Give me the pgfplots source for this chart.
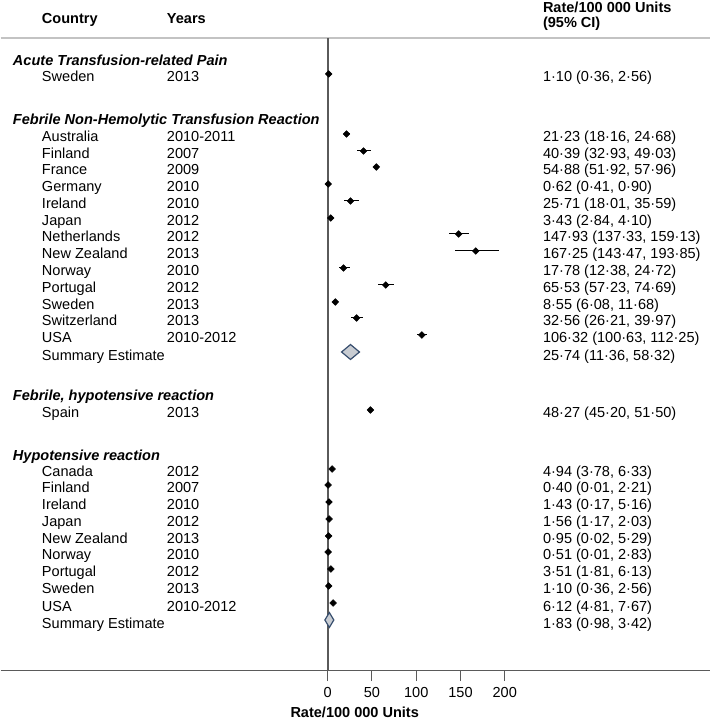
\documentclass[border=0pt]{standalone}
\usepackage{pgfplots}
\pgfplotsset{compat=1.18}
\usepackage{pgfplotstable}
\usepackage{fontspec}
\setmainfont{Liberation Sans}
\definecolor{sumfill}{RGB}{200,204,210}
\definecolor{sumdraw}{RGB}{55,78,110}
\definecolor{vline}{RGB}{90,90,90}
\definecolor{topline}{RGB}{195,195,195}
\newcommand\fs{\fontsize{10.9}{12.5}\selectfont}

% y = -pixel position of the marker row
\pgfplotstableread{
y x lo hi
-74 1.10 0.36 2.56
}\tabacute
\pgfplotstableread{
y x lo hi
-134 21.23 18.16 24.68
-151 40.39 32.93 49.03
-167 54.88 51.92 57.96
-184 0.62 0.41 0.90
-201 25.71 18.01 35.59
-218 3.43 2.84 4.10
-234 147.93 137.33 159.13
-251 167.25 143.47 193.85
-268 17.78 12.38 24.72
-285 65.53 57.23 74.69
-302 8.55 6.08 11.68
-318 32.56 26.21 39.97
-335 106.32 100.63 112.25
}\tabfnh
\pgfplotstableread{
y x lo hi
-410 48.27 45.20 51.50
}\tabfhyp
\pgfplotstableread{
y x lo hi
-469 4.94 3.78 6.33
-485 0.40 0.01 2.21
-502 1.43 0.17 5.16
-519 1.56 1.17 2.03
-536 0.95 0.02 5.29
-552 0.51 0.01 2.83
-569 3.51 1.81 6.13
-586 1.10 0.36 2.56
-603 6.12 4.81 7.67
}\tabhyp

\newcommand\crow[4]{%
 \node[anchor=base west,inner sep=0pt,yshift=-6pt] at (axis cs:-323.16,-#1) {#2};
 \node[anchor=base west,inner sep=0pt,yshift=-6pt] at (axis cs:-181.92,-#1) {#3};
 \node[anchor=base west,inner sep=0pt,yshift=-6pt] at (axis cs:242.94,-#1) {#4};
}
\newcommand\ghead[2]{%
 \node[anchor=base west,inner sep=0pt,font=\fs\bfseries\itshape] at (axis cs:-355.93,-#1) {#2};
}

\begin{document}
\begin{tikzpicture}[font=\fs]
\begin{axis}[
  x=0.66375pt, y=0.75pt,
  xmin=0, xmax=431.64, ymin=-670, ymax=-38,
  scale only axis,
  axis x line=bottom, axis y line=none,
  axis line style={draw=none},
  xtick={0,50,100,150,200},
  tick align=outside,
  major tick length=8.25pt,
  x tick style={vline, line width=0.75pt},
  xticklabel style={font=\fs, yshift=-1pt},
  /pgf/number format/assume math mode=true,
  clip mode=individual,
  error bars/error bar style={black, line width=0.75pt},
  error bars/error mark=none,
]
% frame lines
\path (axis cs:-369.49,0) rectangle (axis cs:431.64,-724);
\draw[topline, line width=1.1pt] (axis cs:-369.49,-38) -- (axis cs:431.64,-38);
\draw[vline, line width=0.75pt] (axis cs:-369.49,-670) -- (axis cs:431.64,-670);
\draw[vline, line width=1.2pt] (axis cs:0,-38) -- (axis cs:0,-670);

% points with CIs
\addplot[only marks, mark=diamond*, mark size=2.5pt, mark options={xscale=1.33, fill=black, draw=black},
  error bars/.cd, x dir=both, x explicit]
  table[x=x, y=y, x error plus expr=\thisrow{hi}-\thisrow{x}, x error minus expr=\thisrow{x}-\thisrow{lo}] {\tabacute};
\addplot[only marks, mark=diamond*, mark size=2.5pt, mark options={xscale=1.33, fill=black, draw=black},
  error bars/.cd, x dir=both, x explicit]
  table[x=x, y=y, x error plus expr=\thisrow{hi}-\thisrow{x}, x error minus expr=\thisrow{x}-\thisrow{lo}] {\tabfnh};
\addplot[only marks, mark=diamond*, mark size=2.5pt, mark options={xscale=1.33, fill=black, draw=black},
  error bars/.cd, x dir=both, x explicit]
  table[x=x, y=y, x error plus expr=\thisrow{hi}-\thisrow{x}, x error minus expr=\thisrow{x}-\thisrow{lo}] {\tabfhyp};
\addplot[only marks, mark=diamond*, mark size=2.5pt, mark options={xscale=1.33, fill=black, draw=black},
  error bars/.cd, x dir=both, x explicit]
  table[x=x, y=y, x error plus expr=\thisrow{hi}-\thisrow{x}, x error minus expr=\thisrow{x}-\thisrow{lo}] {\tabhyp};
% summary estimates
\addplot[only marks, mark=diamond*, mark size=5.6pt, mark options={xscale=1.6, fill=sumfill, draw=sumdraw, line width=0.9pt}]
  coordinates {(25.74,-352)};
\addplot[only marks, mark=diamond*, mark size=5.6pt, mark options={xscale=0.8, fill=sumfill, draw=sumdraw, line width=0.9pt}]
  coordinates {(1.83,-620)};

% column headers
\node[anchor=base west,inner sep=0pt,font=\fs\bfseries] at (axis cs:-323.16,-24) {Country};
\node[anchor=base west,inner sep=0pt,font=\fs\bfseries] at (axis cs:-181.92,-24) {Years};
\node[anchor=base west,inner sep=0pt,font=\fs\bfseries] at (axis cs:242.94,-13) {Rate/100 000 Units};
\node[anchor=base west,inner sep=0pt,font=\fs\bfseries] at (axis cs:242.94,-28) {(95\% CI)};

\ghead{66}{Acute Transfusion-related Pain}
\crow{74}{Sweden}{2013}{1·10 (0·36, 2·56)}

\ghead{125}{Febrile Non-Hemolytic Transfusion Reaction}
\crow{134}{Australia}{2010-2011}{21·23 (18·16, 24·68)}
\crow{151}{Finland}{2007}{40·39 (32·93, 49·03)}
\crow{167}{France}{2009}{54·88 (51·92, 57·96)}
\crow{184}{Germany}{2010}{0·62 (0·41, 0·90)}
\crow{201}{Ireland}{2010}{25·71 (18·01, 35·59)}
\crow{218}{Japan}{2012}{3·43 (2·84, 4·10)}
\crow{234}{Netherlands}{2012}{147·93 (137·33, 159·13)}
\crow{251}{New Zealand}{2013}{167·25 (143·47, 193·85)}
\crow{268}{Norway}{2010}{17·78 (12·38, 24·72)}
\crow{285}{Portugal}{2012}{65·53 (57·23, 74·69)}
\crow{302}{Sweden}{2013}{8·55 (6·08, 11·68)}
\crow{318}{Switzerland}{2013}{32·56 (26·21, 39·97)}
\crow{335}{USA}{2010-2012}{106·32 (100·63, 112·25)}
\crow{353}{Summary Estimate}{}{25·74 (11·36, 58·32)}

\ghead{401}{Febrile, hypotensive reaction}
\crow{410}{Spain}{2013}{48·27 (45·20, 51·50)}

\ghead{461}{Hypotensive reaction}
\crow{469}{Canada}{2012}{4·94 (3·78, 6·33)}
\crow{485}{Finland}{2007}{0·40 (0·01, 2·21)}
\crow{502}{Ireland}{2010}{1·43 (0·17, 5·16)}
\crow{519}{Japan}{2012}{1·56 (1·17, 2·03)}
\crow{536}{New Zealand}{2013}{0·95 (0·02, 5·29)}
\crow{552}{Norway}{2010}{0·51 (0·01, 2·83)}
\crow{569}{Portugal}{2012}{3·51 (1·81, 6·13)}
\crow{586}{Sweden}{2013}{1·10 (0·36, 2·56)}
\crow{603}{USA}{2010-2012}{6·12 (4·81, 7·67)}
\crow{621}{Summary Estimate}{}{1·83 (0·98, 3·42)}

% x axis label
\node[anchor=base,inner sep=0pt,font=\fs\bfseries] at (axis cs:30.5,-717) {Rate/100 000 Units};
\end{axis}
\end{tikzpicture}
\end{document}
